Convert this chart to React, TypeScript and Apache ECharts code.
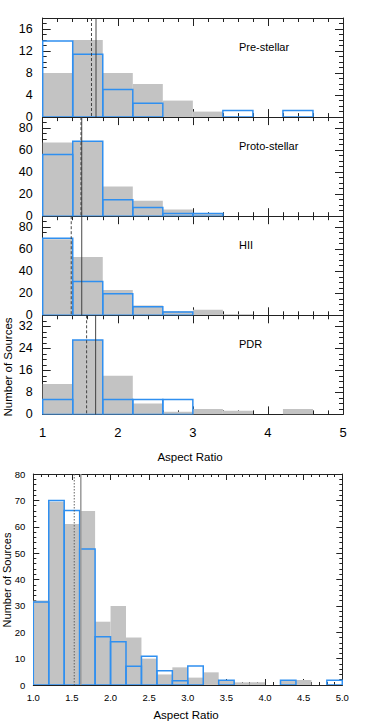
import React, { useEffect, useRef } from "react";
import * as echarts from "echarts";

// ---------- DATA ----------
const topBinEdges = [1.0, 1.4, 1.8, 2.2, 2.6, 3.0, 3.4, 3.8, 4.2, 4.6];
const panelNames = ["Pre-stellar", "Proto-stellar", "HII", "PDR"];

const preStellarAll = [8, 14, 8, 6, 3, 1, 0, 0, 0];
const preStellarSub = [13.8, 11.4, 5, 2.5, 0, 0, 1.2, 0, 1.2];
const protoStellarAll = [67, 68, 27, 14, 6, 2.4, 0, 0, 0];
const protoStellarSub = [56, 68, 15, 8, 2.4, 2.4, 0, 0, 0];
const hiiAll = [69, 53, 23, 9, 3.6, 5, 1, 0, 0];
const hiiSub = [70, 30.6, 19.5, 7.8, 3, 0, 0, 0, 0];
const pdrAll = [11, 27, 14, 4, 1, 2, 1.3, 0, 2];
const pdrSub = [5.4, 27, 5.4, 5.4, 5.4, 0, 0, 0, 0];

const panelAll = [preStellarAll, protoStellarAll, hiiAll, pdrAll];
const panelSub = [preStellarSub, protoStellarSub, hiiSub, pdrSub];
const panelYMax = [18, 90, 90, 36];
const panelYInterval = [4, 20, 20, 8];
const panelDashed = [1.65, 1.51, 1.38, 1.585];
const panelSolid = [1.71, 1.52, 1.52, 1.705];
const topXTickValues = [1, 2, 3, 4, 5];

const bottomBinEdges = [
  1.0, 1.2, 1.4, 1.6, 1.8, 2.0, 2.2, 2.4, 2.6, 2.8, 3.0, 3.2, 3.4, 3.6, 3.8,
  4.0, 4.2, 4.4, 4.6, 4.8, 5.0,
];
const bottomAll = [32, 69.5, 61, 66, 24, 30, 18, 10, 4, 6.7, 2.8, 4.8, 1.6, 1, 1, 0, 1.5, 1.9, 0, 0];
const bottomSub = [31.5, 70, 66.2, 51.6, 18.3, 16.4, 7.1, 10.9, 5.4, 1.6, 7.2, 0, 1.8, 0, 0, 0, 1.8, 0, 0, 1.8];
const bottomDotted = 1.53;
const bottomSolid = 1.615;

// ---------- LAYOUT / STYLE ----------
const FONT = "'Liberation Sans', Arial, Helvetica, sans-serif";
const GREY = "#c3c3c3";
const BLUE = "#2f8ff0";
const TOP_LEFT = 42.7;
const TOP_WIDTH = 300.3;
const PANEL_TOP0 = 18;
const PANEL_H = 99.1;
const BOT_LEFT = 33.3;
const BOT_TOP = 474;
const BOT_WIDTH = 309;
const BOT_HEIGHT = 211;

const toBins = (edges: number[], values: number[]) =>
  values.map((v, i) => [edges[i], edges[i + 1], v]);

const barItem = (fill: string, stroke: string, lineWidth: number) => (params: any, api: any) => {
  const v = api.value(2);
  if (!v) return { type: "group", children: [] };
  const a = api.coord([api.value(0), v]);
  const b = api.coord([api.value(1), 0]);
  return {
    type: "rect",
    shape: { x: a[0], y: a[1], width: b[0] - a[0], height: b[1] - a[1] },
    style: { fill, stroke, lineWidth },
  };
};

const lineItem = (styles: any[]) => (params: any, api: any) => {
  const x = api.coord([api.value(0), 0])[0];
  const cs = params.coordSys;
  const s = styles[api.value(2)];
  return {
    type: "line",
    shape: { x1: x, y1: cs.y, x2: x, y2: cs.y + cs.height },
    style: { stroke: s.color, lineWidth: s.width, lineDash: s.dash },
  };
};

const axisLine = { show: true, onZero: false, lineStyle: { color: "#222", width: 1 } };

export default function App() {
  const ref = useRef<HTMLDivElement>(null);
  useEffect(() => {
    if (!ref.current) return;
    const chart = echarts.init(ref.current, null, { renderer: "svg" });

    const grid: any[] = [];
    const xAxis: any[] = [];
    const yAxis: any[] = [];
    const series: any[] = [];
    const graphic: any[] = [];

    const topLineStyles = [
      { color: "#333", width: 0.9, dash: [3, 2] },
      { color: "#333", width: 0.9, dash: null },
    ];
    const botLineStyles = [
      { color: "#555", width: 0.9, dash: [1.5, 1.5] },
      { color: "#999", width: 1.5, dash: null },
    ];

    for (let i = 0; i < 4; i++) {
      grid.push({ left: TOP_LEFT, top: PANEL_TOP0 + i * PANEL_H, width: TOP_WIDTH, height: PANEL_H });
      const xBase = {
        type: "value",
        gridIndex: i,
        min: topXTickValues[0],
        max: topXTickValues[topXTickValues.length - 1],
        interval: 1,
        axisLine,
        axisTick: { show: true, inside: true, length: 8, lineStyle: { color: "#222" } },
        minorTick: { show: true, splitNumber: 5, length: 4, lineStyle: { color: "#222" } },
        splitLine: { show: false },
        minorSplitLine: { show: false },
      };
      xAxis.push({
        ...xBase,
        position: "bottom",
        axisLabel: { show: i === 3, fontSize: 13, color: "#000", fontFamily: FONT, margin: 12 },
      });
      xAxis.push({ ...xBase, position: "top", axisLabel: { show: false } });
      const yBase = {
        type: "value",
        gridIndex: i,
        min: 0,
        max: panelYMax[i],
        interval: panelYInterval[i],
        axisLine,
        axisTick: { show: true, inside: true, length: 8, lineStyle: { color: "#222" } },
        minorTick: { show: true, splitNumber: 4, length: 4, lineStyle: { color: "#222" } },
        splitLine: { show: false },
        minorSplitLine: { show: false },
      };
      yAxis.push({
        ...yBase,
        position: "left",
        axisLabel: { fontSize: 12.5, color: "#000", fontFamily: FONT, margin: 10, showMaxLabel: false },
      });
      yAxis.push({ ...yBase, position: "right", axisLabel: { show: false } });

      const ax = i * 2;
      series.push({
        type: "custom",
        xAxisIndex: ax,
        yAxisIndex: ax,
        clip: true,
        encode: { x: [0, 1], y: 2 },
        data: toBins(topBinEdges, panelAll[i]),
        renderItem: barItem(GREY, "none", 0),
      });
      series.push({
        type: "custom",
        xAxisIndex: ax,
        yAxisIndex: ax,
        clip: true,
        encode: { x: [0, 1], y: 2 },
        data: toBins(topBinEdges, panelSub[i]),
        renderItem: barItem("none", BLUE, 1.5),
      });
      series.push({
        type: "custom",
        xAxisIndex: ax,
        yAxisIndex: ax,
        encode: { x: 0, y: 1 },
        data: [
          [panelDashed[i], 0, 0],
          [panelSolid[i], 0, 1],
        ],
        renderItem: lineItem(topLineStyles),
      });

      graphic.push({
        type: "text",
        left: 239,
        top: PANEL_TOP0 + i * PANEL_H + 23,
        style: { text: panelNames[i], font: `11px ${FONT}`, fill: "#000" },
      });
    }

    // bottom panel
    grid.push({ left: BOT_LEFT, top: BOT_TOP, width: BOT_WIDTH, height: BOT_HEIGHT });
    const bxBase = {
      type: "value",
      gridIndex: 4,
      min: 1,
      max: 5,
      interval: 0.5,
      axisLine,
      axisTick: { show: true, inside: true, length: 6, lineStyle: { color: "#222" } },
      minorTick: { show: true, splitNumber: 5, length: 3, lineStyle: { color: "#222" } },
      splitLine: { show: false },
      minorSplitLine: { show: false },
    };
    xAxis.push({
      ...bxBase,
      position: "bottom",
      axisLabel: {
        fontSize: 9.5,
        color: "#000",
        fontFamily: FONT,
        margin: 7,
        formatter: (v: number) => v.toFixed(1),
      },
    });
    xAxis.push({ ...bxBase, position: "top", axisLabel: { show: false } });
    const byBase = {
      type: "value",
      gridIndex: 4,
      min: 0,
      max: 80,
      interval: 10,
      axisLine,
      axisTick: { show: true, inside: true, length: 6, lineStyle: { color: "#222" } },
      minorTick: { show: true, splitNumber: 5, length: 3, lineStyle: { color: "#222" } },
      splitLine: { show: false },
      minorSplitLine: { show: false },
    };
    yAxis.push({
      ...byBase,
      position: "left",
      axisLabel: { fontSize: 9.5, color: "#000", fontFamily: FONT, margin: 8 },
    });
    yAxis.push({ ...byBase, position: "right", axisLabel: { show: false } });
    series.push({
      type: "custom",
      xAxisIndex: 8,
      yAxisIndex: 8,
      clip: true,
      encode: { x: [0, 1], y: 2 },
      data: toBins(bottomBinEdges, bottomAll),
      renderItem: barItem(GREY, "none", 0),
    });
    series.push({
      type: "custom",
      xAxisIndex: 8,
      yAxisIndex: 8,
      clip: true,
      encode: { x: [0, 1], y: 2 },
      data: toBins(bottomBinEdges, bottomSub),
      renderItem: barItem("none", BLUE, 1.5),
    });
    series.push({
      type: "custom",
      xAxisIndex: 8,
      yAxisIndex: 8,
      encode: { x: 0, y: 1 },
      data: [
        [bottomDotted, 0, 0],
        [bottomSolid, 0, 1],
      ],
      renderItem: lineItem(botLineStyles),
    });

    graphic.push({
      type: "text",
      x: 190,
      y: 457,
      style: { text: "Aspect Ratio", font: `11.5px ${FONT}`, fill: "#000", textAlign: "center", textVerticalAlign: "middle" },
    });
    graphic.push({
      type: "text",
      x: 8,
      y: 367,
      rotation: Math.PI / 2,
      style: { text: "Number of Sources", font: `11.5px ${FONT}`, fill: "#000", textAlign: "center", textVerticalAlign: "middle" },
    });
    graphic.push({
      type: "text",
      x: 186,
      y: 715,
      style: { text: "Aspect Ratio", font: `11.5px ${FONT}`, fill: "#000", textAlign: "center", textVerticalAlign: "middle" },
    });
    graphic.push({
      type: "text",
      x: 7,
      y: 580,
      rotation: Math.PI / 2,
      style: { text: "Number of Sources", font: `11px ${FONT}`, fill: "#000", textAlign: "center", textVerticalAlign: "middle" },
    });

    chart.setOption({
      animation: false,
      backgroundColor: "#fff",
      grid,
      xAxis,
      yAxis,
      series,
      graphic,
    });
    return () => chart.dispose();
  }, []);
  return (
    <div
      ref={ref}
      style={{ position: "fixed", left: 0, top: 0, width: 374, height: 722 }}
    />
  );
}
